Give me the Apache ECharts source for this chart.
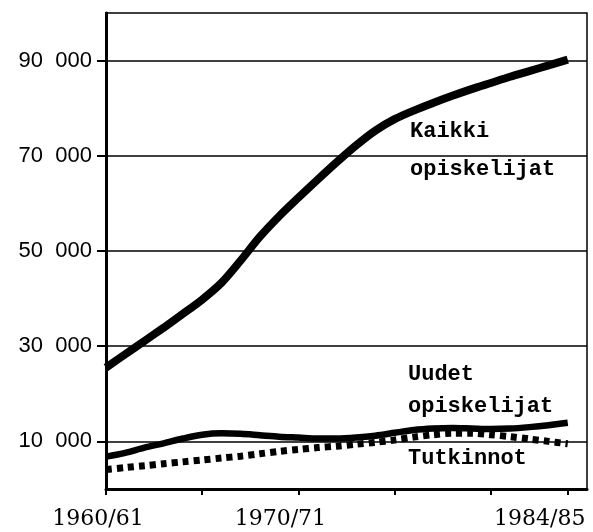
<!DOCTYPE html>
<html><head><meta charset="utf-8">
<script src="https://cdn.jsdelivr.net/npm/echarts@6/dist/echarts.min.js"></script>
<style>html,body{margin:0;padding:0;background:#fff}#c{width:593px;height:532px}</style>
</head><body><div id="c"></div>
<script>
const years = [1960,1961,1962,1963,1964,1965,1966,1967,1968,1969,1970,1971,1972,1973,1974,1975,1976,1977,1978,1979,1980,1981,1982,1983,1984];
const kaikki = [25500,28300,31100,33900,36800,39800,43300,48000,53000,57300,61200,65000,68700,72200,75300,77700,79500,81100,82600,84000,85300,86600,87800,89000,90200];
const uudet = [6800,7600,8700,9600,10600,11400,11700,11600,11300,11000,10800,10600,10600,10800,11200,11800,12400,12700,12800,12700,12600,12700,13000,13400,13900];
const tutkinnot = [4100,4500,4900,5300,5700,6100,6500,6900,7400,7900,8300,8700,9000,9400,9800,10300,10900,11400,11700,11700,11400,11000,10500,10000,9500];
const yTicks = [10000,30000,50000,70000,90000];
const xTicks = [1960,1965,1970,1975,1980,1984];
const xLabelYears = [1960,1970,1984];
const xLabels = ['1960/61','1970/71','1984/85'];
const seriesNames = ['Kaikki opiskelijat','Uudet opiskelijat','Tutkinnot'];

const chart = echarts.init(document.getElementById('c'), null, {renderer:'canvas'});
const pairs = arr => years.map((y,i)=>[y, arr[i]]);
const xFont = {fontFamily:'DejaVu Serif', fontSize:22, color:'#000'};
const txt = (s, x, y) => ({type:'text', x:x, y:y, silent:true,
  style:{text:s, font:'bold 22px "Liberation Mono"', fill:'#000', align:'left', verticalAlign:'top'}});
const option = {
  animation:false,
  backgroundColor:'#fff',
  grid:{left:106,right:6,top:13,bottom:43,show:true,borderColor:'#000',borderWidth:1.5},
  xAxis:{type:'value',min:1960,max:1985,
    axisLine:{show:true,onZero:false,lineStyle:{color:'#000',width:3}},
    axisTick:{show:true,customValues:xTicks,length:6,lineStyle:{color:'#000',width:2}},
    axisLabel:{customValues:xLabelYears,margin:19,
      formatter:v=>{const i=xLabelYears.indexOf(v);return '{l'+i+'|'+xLabels[i]+'}';},
      fontFamily:'DejaVu Serif',fontSize:22,color:'#000',
      rich:{l0:Object.assign({padding:[0,16,0,0]},xFont),l1:Object.assign({padding:[0,36,0,0]},xFont),l2:Object.assign({padding:[0,56,0,0]},xFont)}},
    splitLine:{show:false}},
  yAxis:{type:'value',min:0,max:100000,interval:10000,
    axisLine:{show:true,lineStyle:{color:'#000',width:3}},
    axisTick:{show:true,customValues:yTicks,length:9,lineStyle:{color:'#000',width:2}},
    axisLabel:{customValues:yTicks,margin:14,fontFamily:'Liberation Sans',fontSize:22,color:'#000',
      formatter:v=>{const s=String(v);return s.slice(0,-3)+'  '+s.slice(-3);}},
    splitLine:{show:false}},
  series:[
    {type:'line',name:'grid',data:[],silent:true,
      markLine:{silent:true,symbol:['none','none'],label:{show:false},animation:false,
        lineStyle:{color:'#000',width:1.5,type:'solid'},
        data:yTicks.map(v=>({yAxis:v}))}},
    {type:'line',name:seriesNames[0],data:pairs(kaikki),smooth:0.3,showSymbol:false,
      lineStyle:{color:'#000',width:8}},
    {type:'line',name:seriesNames[1],data:pairs(uudet),smooth:0.3,showSymbol:false,
      lineStyle:{color:'#000',width:6.5}},
    {type:'line',name:seriesNames[2],data:pairs(tutkinnot),smooth:0.3,showSymbol:false,
      lineStyle:{color:'#000',width:7,type:[6,5],cap:'butt'}}
  ],
  graphic:[
    txt('Kaikki',410,120),
    txt('opiskelijat',410,158),
    txt('Uudet',408,363),
    txt('opiskelijat',408,395),
    txt('Tutkinnot',408,447)
  ]
};
chart.setOption(option);
</script></body></html>
